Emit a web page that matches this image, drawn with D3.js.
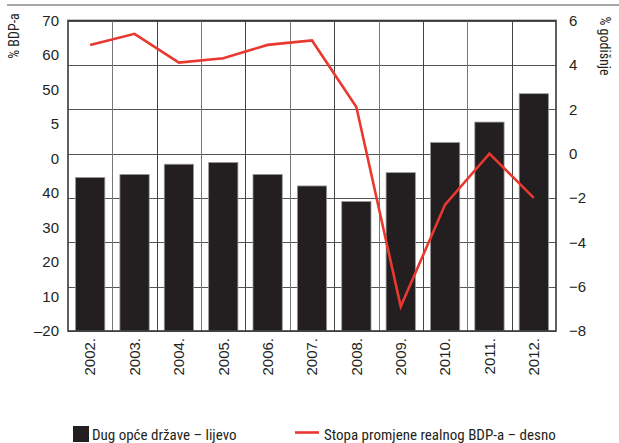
<!DOCTYPE html>
<html>
<head>
<meta charset="utf-8">
<script src="https://cdn.jsdelivr.net/npm/d3@7"></script>
<style>
  html, body { margin: 0; padding: 0; background: #fff; }
  svg { display: block; }
  text { font-family: "Liberation Sans Narrow", "Arial Narrow", "Roboto Condensed", "Liberation Sans", sans-serif; fill: #231f20; }
</style>
</head>
<body>
<svg id="chart" width="619" height="443"></svg>
<script>
const years = ["2002.", "2003.", "2004.", "2005.", "2006.", "2007.", "2008.", "2009.", "2010.", "2011.", "2012."];
const debt = [34.6, 35.3, 37.6, 38.0, 35.3, 32.7, 29.2, 35.7, 42.5, 47.1, 53.5];
const growth = [4.9, 5.4, 4.1, 4.3, 4.9, 5.1, 2.1, -6.9, -2.3, 0.0, -2.0];
const leftTickLabels = ["70", "60", "50", "5", "0", "40", "30", "20", "10", "\u201320"];
const rightTicks = [6, 4, 2, 0, -2, -4, -6, -8];
const leftTitle = "% BDP-a";
const rightTitle = "% godišnje";
const legendBar = "Dug opće države \u2013 lijevo";
const legendLine = "Stopa promjene realnog BDP-a \u2013 desno";

const svg = d3.select("#chart");
const m = { left: 68, right: 556, top: 20.5, bottom: 331 };

const x = d3.scaleBand().domain(years).range([m.left, m.right]).paddingInner(0.34).paddingOuter(0.17);
const xGrid = d3.scaleBand().domain(years).range([m.left, m.right]);
const yL = d3.scaleLinear().domain([0, 70]).range([m.bottom, m.top]);
const yR = d3.scaleLinear().domain([-8, 6]).range([m.bottom, m.top]);
const yLabels = d3.scalePoint().domain(leftTickLabels).range([m.top, m.bottom]);

// top rule
svg.append("line").attr("x1", 7).attr("x2", 619).attr("y1", 5).attr("y2", 5)
  .attr("stroke", "#8a8a8a").attr("stroke-width", 1.5);

// gridlines
const g = svg.append("g");
g.selectAll(".hg").data(rightTicks).join("line")
  .attr("x1", m.left).attr("x2", m.right)
  .attr("y1", d => Math.round(yR(d)) + 0.5).attr("y2", d => Math.round(yR(d)) + 0.5)
  .attr("stroke", "#555").attr("stroke-width", 1);
g.selectAll(".vg").data(years.slice(1)).join("line")
  .attr("x1", d => Math.round(xGrid(d)) + 0.5).attr("x2", d => Math.round(xGrid(d)) + 0.5)
  .attr("y1", m.top).attr("y2", m.bottom)
  .attr("stroke", (d, i) => i % 2 ? "#444" : "#777").attr("stroke-width", 1);

// bars
svg.append("g").selectAll("rect").data(debt).join("rect")
  .attr("x", (d, i) => x(years[i]))
  .attr("width", x.bandwidth())
  .attr("y", d => yL(d))
  .attr("height", d => yL(0) - yL(d))
  .attr("fill", "#231f20")
  .attr("stroke", "#9a9a9a").attr("stroke-width", 0.8);

// line
const line = d3.line().x((d, i) => x(years[i]) + x.bandwidth() / 2).y(d => yR(d));
svg.append("path").datum(growth).attr("d", line)
  .attr("fill", "none").attr("stroke", "#e8382f").attr("stroke-width", 2.6)
  .attr("stroke-linejoin", "miter");

// frame
svg.append("rect").attr("x", m.left).attr("y", m.top)
  .attr("width", m.right - m.left).attr("height", m.bottom - m.top)
  .attr("fill", "none").attr("stroke", "#3a3a3a").attr("stroke-width", 1.6);

// left axis labels
const axL = svg.append("g").attr("transform", `translate(${m.left - 9},0)`)
  .call(d3.axisLeft(yLabels).tickSize(0).tickPadding(0));
axL.select(".domain").remove();
axL.selectAll("text").attr("font-size", 15).style("font-family", "'Liberation Sans Narrow','Arial Narrow',sans-serif").attr("fill", "#231f20");

// right axis labels
const axR = svg.append("g").attr("transform", `translate(${m.right + 13},0)`)
  .call(d3.axisRight(yR).tickValues(rightTicks).tickSize(0).tickPadding(0)
    .tickFormat(d => d < 0 ? "\u2212" + Math.abs(d) : String(d)));
axR.select(".domain").remove();
axR.selectAll("text").attr("font-size", 15).style("font-family", "'Liberation Sans Narrow','Arial Narrow',sans-serif").attr("fill", "#231f20");

// x axis labels
const axX = svg.append("g").attr("transform", `translate(0,${m.bottom + 7})`)
  .call(d3.axisBottom(x).tickSize(0).tickPadding(0));
axX.select(".domain").remove();
axX.selectAll("text")
  .attr("font-size", 15).style("font-family", "'Liberation Sans Narrow','Arial Narrow',sans-serif").attr("fill", "#231f20")
  .attr("transform", "rotate(-90)")
  .attr("text-anchor", "end").attr("x", 0).attr("y", 0).attr("dy", "0.35em");

// axis titles
svg.append("text").attr("transform", "translate(19,36) rotate(-90)")
  .attr("text-anchor", "middle").attr("font-size", 14).text(leftTitle);
svg.append("text").attr("transform", "translate(600,46) rotate(90)")
  .attr("text-anchor", "middle").attr("font-size", 14).text(rightTitle);

// legend
svg.append("rect").attr("x", 73).attr("y", 426).attr("width", 16).attr("height", 16).attr("fill", "#231f20");
svg.append("text").attr("x", 92).attr("y", 440).attr("font-size", 15).text(legendBar);
svg.append("line").attr("x1", 295).attr("x2", 319).attr("y1", 432.5).attr("y2", 432.5)
  .attr("stroke", "#e8382f").attr("stroke-width", 2.6);
svg.append("text").attr("x", 324).attr("y", 440).attr("font-size", 15).text(legendLine);
</script>
</body>
</html>
